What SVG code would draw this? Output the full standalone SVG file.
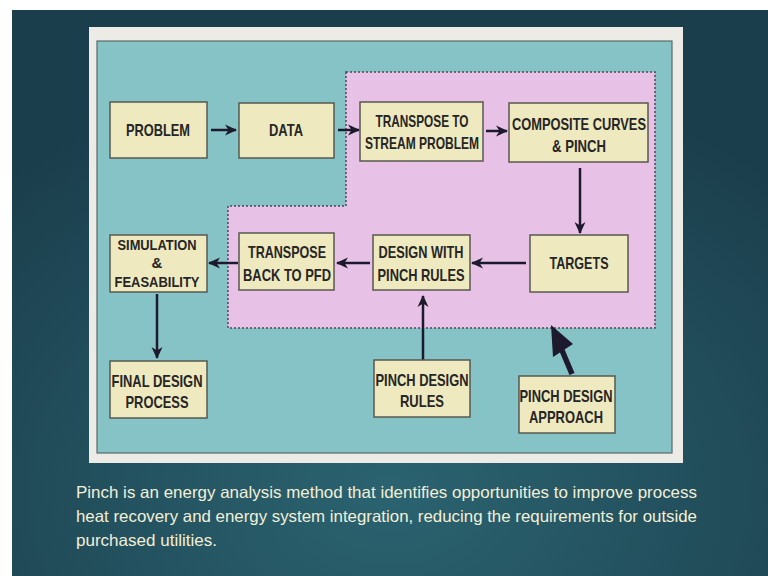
<svg xmlns="http://www.w3.org/2000/svg" width="768" height="576" viewBox="0 0 768 576">
  <defs>
    <radialGradient id="bg" cx="0.5" cy="0.85" r="0.75">
      <stop offset="0" stop-color="#2b6370"/>
      <stop offset="1" stop-color="#1b3e4c"/>
    </radialGradient>
    <marker id="head" viewBox="0 0 12 12" refX="11" refY="6" markerWidth="12" markerHeight="12" markerUnits="userSpaceOnUse" orient="auto">
      <path d="M0,0.5 L12,6 L0,11.5 L3.5,6 Z" fill="#1c1a2c"/>
    </marker>
    <style>
      .box { fill: #efe9bf; stroke: #585850; stroke-width: 1.5; }
      .lbl { font-family: "Liberation Sans Narrow", "Liberation Sans", Arial, sans-serif; font-weight: bold; font-size: 17px; fill: #262626; text-anchor: middle; }
      .sm { font-size: 15px; }
      .edge { fill: none; stroke: #1c1a2c; stroke-width: 2.5; marker-end: url(#head); }
      .cap { font-family: "Liberation Sans Narrow", "Liberation Sans", Arial, sans-serif; font-size: 16.5px; fill: #f2efd8; }
    </style>
  </defs>

  <!-- slide background -->
  <rect x="0" y="0" width="768" height="576" fill="#ffffff"/>
  <rect x="12" y="10" width="756" height="566" fill="url(#bg)"/>

  <!-- white picture frame and teal panel -->
  <rect x="89" y="27" width="594" height="436" fill="#ecebe6"/>
  <rect x="97" y="41" width="575" height="412" fill="#86c3c6" stroke="#5a6a6a" stroke-width="1.2"/>

  <!-- pinch design zone -->
  <path d="M346,72 H655 V328 H228 V206 H346 Z" fill="#e8c2e6" stroke="#4a4a5a" stroke-width="1.5" stroke-dasharray="2,2"/>

  <!-- connectors -->
  <g id="connectors">
    <line class="edge" x1="211" y1="130" x2="236" y2="130"/>
    <line class="edge" x1="338" y1="130" x2="359" y2="130"/>
    <line class="edge" x1="486" y1="131" x2="507" y2="131"/>
    <line class="edge" x1="580" y1="168" x2="580" y2="233"/>
    <line class="edge" x1="526" y1="263" x2="472" y2="263"/>
    <line class="edge" x1="370" y1="263" x2="337" y2="263"/>
    <line class="edge" x1="238" y1="263" x2="209" y2="263"/>
    <line class="edge" x1="157" y1="294" x2="157" y2="358"/>
    <line class="edge" x1="423" y1="360" x2="423" y2="296"/>
    <!-- approach pointer into the pinch zone -->
    <line x1="572" y1="374" x2="561" y2="348" stroke="#1c1a2c" stroke-width="5.5"/>
    <polygon points="551,325 553,357 573,344" fill="#1c1a2c"/>
  </g>

  <g id="problem">
    <rect class="box" x="110" y="102" width="97" height="56"/>
    <text class="lbl" x="158" y="136" textLength="64" lengthAdjust="spacingAndGlyphs">PROBLEM</text>
  </g>
  <g id="data">
    <rect class="box" x="239" y="103" width="95" height="55"/>
    <text class="lbl" x="286" y="136" textLength="34" lengthAdjust="spacingAndGlyphs">DATA</text>
  </g>
  <g id="transpose-to-stream">
    <rect class="box" x="360" y="102" width="123" height="59"/>
    <text class="lbl" x="422" y="127" textLength="93" lengthAdjust="spacingAndGlyphs">TRANSPOSE TO</text>
    <text class="lbl" x="422" y="149" textLength="114" lengthAdjust="spacingAndGlyphs">STREAM PROBLEM</text>
  </g>
  <g id="composite-curves">
    <rect class="box" x="509" y="103" width="139" height="59"/>
    <text class="lbl" x="579" y="130" textLength="134" lengthAdjust="spacingAndGlyphs">COMPOSITE CURVES</text>
    <text class="lbl" x="579" y="152" textLength="54" lengthAdjust="spacingAndGlyphs">&amp; PINCH</text>
  </g>
  <g id="targets">
    <rect class="box" x="530" y="235" width="98" height="57"/>
    <text class="lbl" x="579" y="269" textLength="59" lengthAdjust="spacingAndGlyphs">TARGETS</text>
  </g>
  <g id="design-with-rules">
    <rect class="box" x="373" y="235" width="97" height="55"/>
    <text class="lbl" x="421" y="258" textLength="85" lengthAdjust="spacingAndGlyphs">DESIGN WITH</text>
    <text class="lbl" x="421" y="281" textLength="87" lengthAdjust="spacingAndGlyphs">PINCH RULES</text>
  </g>
  <g id="transpose-back">
    <rect class="box" x="239" y="233" width="95" height="57"/>
    <text class="lbl" x="287" y="258" textLength="78" lengthAdjust="spacingAndGlyphs">TRANSPOSE</text>
    <text class="lbl" x="287" y="281" textLength="88" lengthAdjust="spacingAndGlyphs">BACK TO PFD</text>
  </g>
  <g id="simulation">
    <rect class="box" x="110" y="235" width="97" height="57"/>
    <text class="lbl sm" x="157" y="250" textLength="79" lengthAdjust="spacingAndGlyphs">SIMULATION</text>
    <text class="lbl sm" x="157" y="268">&amp;</text>
    <text class="lbl sm" x="157" y="287" textLength="85" lengthAdjust="spacingAndGlyphs">FEASABILITY</text>
  </g>
  <g id="final-design">
    <rect class="box" x="110" y="361" width="97" height="57"/>
    <text class="lbl" x="157" y="387" textLength="91" lengthAdjust="spacingAndGlyphs">FINAL DESIGN</text>
    <text class="lbl" x="157" y="408" textLength="63" lengthAdjust="spacingAndGlyphs">PROCESS</text>
  </g>
  <g id="pinch-design-rules">
    <rect class="box" x="374" y="360" width="96" height="57"/>
    <text class="lbl" x="422" y="386" textLength="93" lengthAdjust="spacingAndGlyphs">PINCH DESIGN</text>
    <text class="lbl" x="422" y="407" textLength="44" lengthAdjust="spacingAndGlyphs">RULES</text>
  </g>
  <g id="pinch-design-approach">
    <rect class="box" x="519" y="376" width="96" height="57"/>
    <text class="lbl" x="566" y="402" textLength="93" lengthAdjust="spacingAndGlyphs">PINCH DESIGN</text>
    <text class="lbl" x="566" y="423" textLength="74" lengthAdjust="spacingAndGlyphs">APPROACH</text>
  </g>

  <!-- caption -->
  <text class="cap" x="76" y="498" textLength="621" lengthAdjust="spacingAndGlyphs">Pinch is an energy analysis method that identifies opportunities to improve process</text>
  <text class="cap" x="76" y="522" textLength="621" lengthAdjust="spacingAndGlyphs">heat recovery and energy system integration, reducing the requirements for outside</text>
  <text class="cap" x="76" y="546" textLength="141" lengthAdjust="spacingAndGlyphs">purchased utilities.</text>
</svg>
